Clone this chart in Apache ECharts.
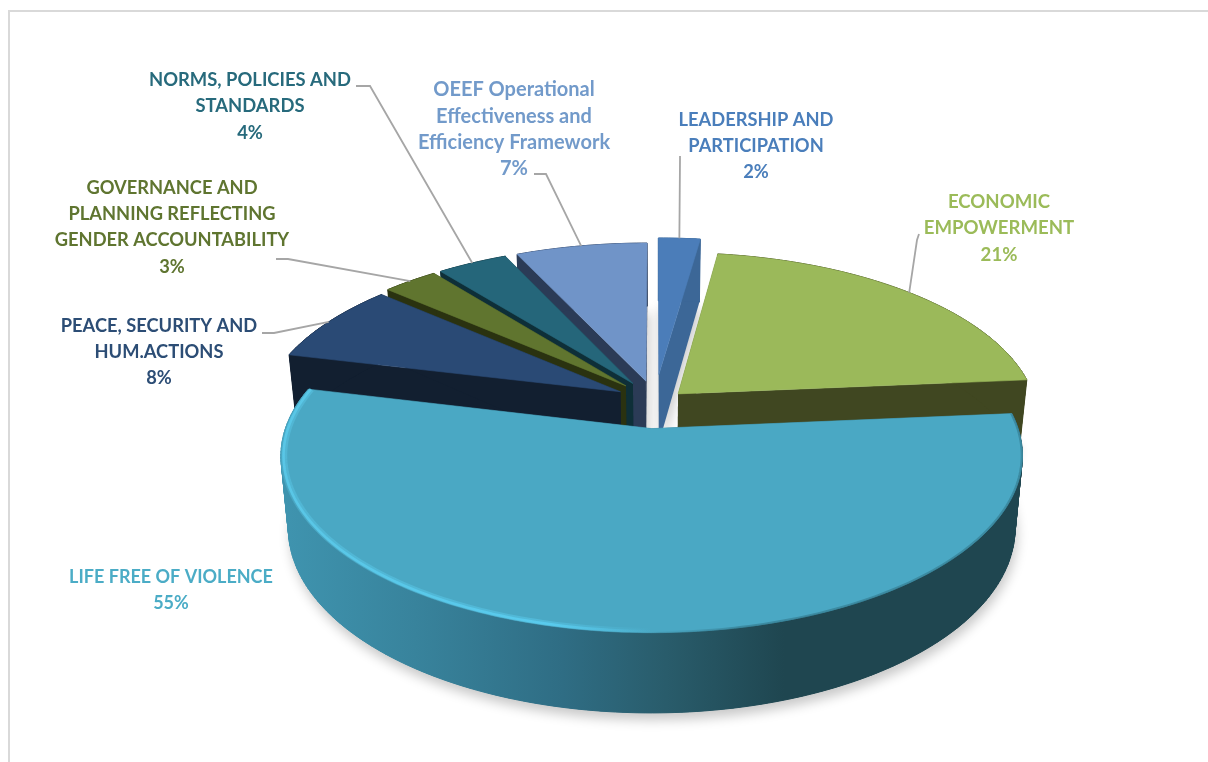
<!DOCTYPE html>
<html>
  <head>
    <title></title>
    <meta charset="UTF-8" />
    <script src="https://cdn.jsdelivr.net/npm/echarts@6/dist/echarts.min.js"></script>
    <style>
      html, body { margin: 0; padding: 0; background: #fff; }
    </style>
  </head>
  <body>
    <div id="main"></div>
    <script>
      const width = 1208;
      const height = 762;
      const main = document.getElementById('main');
      main.style.width = `${width}px`;
      main.style.height = `${height}px`;

      // data, clockwise from 12 o'clock (shares, labels show them rounded)
      const categories = [
        'LEADERSHIP AND\nPARTICIPATION',
        'ECONOMIC\nEMPOWERMENT',
        'LIFE FREE OF VIOLENCE',
        'PEACE, SECURITY AND\nHUM.ACTIONS',
        'GOVERNANCE AND\nPLANNING REFLECTING\nGENDER ACCOUNTABILITY',
        'NORMS, POLICIES AND\nSTANDARDS',
        'OEEF Operational\nEffectiveness and\nEfficiency Framework'
      ];
      const shares = [2.2, 21.4, 55.2, 7.7, 2.9, 3.7, 6.9];

      // styles
      const topColors = ['#4b7db9', '#9bb95a', '#4aa8c4', '#2a4a75', '#60752f', '#25667a', '#7094c8'];
      const sideColors = ['#3c6797', '#404721', '#1f4650', '#121f30', '#2a3210', '#0e2f38', '#2b3b56'];
      const labelColors = ['#4a7ebb', '#9bbb59', '#4bacc6', '#2c4d75', '#5f7530', '#276a7c', '#729aca'];
      const explode = [0.16, 0.075, 0.17, 0.11, 0.12, 0.12, 0.12];
      // direction a slice is pulled out, null = along its own middle
      const explodeDir = [null, 60, 183, null, null, null, null];
      const paintOrder = [6, 5, 4, 3, 0, 1, 2];

      // label layout: centre x, first line centre y, font size
      const labelX = [756, 999, 171, 159, 172, 250, 514];
      const labelY = [120, 202, 577, 326, 188, 80, 90];
      const labelSize = [18.3, 18.6, 18, 18.3, 18.3, 18.4, 20];
      const lineHeight = 26.3;
      // leader start points, elbow points (null = no leader)
      const leaderStart = [[680, 156], [919, 234], null, [262, 333], [276, 259], [356, 86], [534, 174]];
      const leaderElbow = [[680, 160], [917, 240], null, [274, 333], [288, 259], [370, 86], [546, 174]];

      // fake 3d projection
      const cx = 655, cy = 400, Rx = 357, Ry = 164, k = 0.15, H = 70, bottomScale = 0.98;
      const rad = d => d * Math.PI / 180;

      function project(u, v, down) {
        const w = 1 + k * v;
        const s = down ? bottomScale : 1;
        return [cx + Rx * u / w * s, cy - Ry * v / w * s + (down ? H / w : 0)];
      }

      const total = shares.reduce((a, b) => a + b, 0);
      let acc = 0;
      const slices = shares.map((d, i) => {
        const start = acc / total * 360;
        acc += d;
        const end = acc / total * 360;
        const mid = (start + end) / 2;
        return { start, end, mid, dir: explodeDir[i] === null ? mid : explodeDir[i], e: explode[i] };
      });

      function pt(s, a, r, down) {
        const u = s.e * Math.sin(rad(s.dir)) + r * Math.sin(rad(a));
        const v = s.e * Math.cos(rad(s.dir)) + r * Math.cos(rad(a));
        return project(u, v, down);
      }

      function arc(s, r, down) {
        const pts = [];
        const n = Math.max(2, Math.ceil(s.end - s.start));
        for (let j = 0; j <= n; j++) {
          pts.push(pt(s, s.start + (s.end - s.start) * j / n, r, down));
        }
        return pts;
      }

      function wallFill(i) {
        if (i !== 2) return sideColors[i];
        return new echarts.graphic.LinearGradient(283, 0, 1020, 0, [
          { offset: 0, color: '#3f94af' },
          { offset: 0.18, color: '#38839c' },
          { offset: 0.38, color: '#2f6d84' },
          { offset: 0.52, color: '#295c6b' },
          { offset: 0.68, color: '#1f4650' },
          { offset: 1, color: '#1f4650' }
        ], true);
      }

      function sliceElements(i) {
        const s = slices[i];
        const out = [];
        const topArc = arc(s, 1, false);
        const downArc = arc(s, 1, true);
        const apex = pt(s, 0, 0, false);
        const apexDown = pt(s, 0, 0, true);
        // cut faces
        [0, topArc.length - 1].forEach(j => {
          out.push({
            type: 'polygon',
            shape: { points: [apex, topArc[j], downArc[j], apexDown] },
            style: { fill: sideColors[i] }
          });
        });
        // outer wall: quads keep the silhouette closed at the sides, the big polygon hides their seams
        const fill = wallFill(i);
        for (let j = 0; j < topArc.length - 1; j++) {
          out.push({
            type: 'polygon',
            shape: { points: [topArc[j], topArc[j + 1], downArc[j + 1], downArc[j]] },
            style: { fill: fill, stroke: fill, lineWidth: 1 }
          });
        }
        out.push({
          type: 'polygon',
          shape: { points: topArc.concat(downArc.slice().reverse()) },
          style: { fill: fill }
        });
        // top
        out.push({
          type: 'polygon',
          shape: { points: [apex].concat(topArc) },
          style: { fill: topColors[i], stroke: topColors[i], lineWidth: 0.6 }
        });
        if (i === 2) {
          // bevel on the rim
          const glow = new echarts.graphic.LinearGradient(283, 0, 1020, 0, [
            { offset: 0, color: 'rgba(90,200,232,0.9)' },
            { offset: 0.36, color: 'rgba(90,205,240,0.9)' },
            { offset: 0.5, color: 'rgba(90,205,240,0)' },
            { offset: 1, color: 'rgba(90,205,240,0)' }
          ], true);
          const soft = new echarts.graphic.LinearGradient(283, 0, 1020, 0, [
            { offset: 0, color: 'rgba(50,120,140,0)' },
            { offset: 0.5, color: 'rgba(50,120,140,0)' },
            { offset: 0.62, color: 'rgba(50,120,140,0.6)' },
            { offset: 1, color: 'rgba(50,120,140,0.6)' }
          ], true);
          out.push({
            type: 'polyline',
            shape: { points: arc(s, 0.998, false) },
            style: { stroke: soft, lineWidth: 2, fill: null }
          });
          out.push({
            type: 'polyline',
            shape: { points: arc(s, 0.99, false) },
            style: { stroke: glow, lineWidth: 5, fill: null, opacity: 0.5 }
          });
          out.push({
            type: 'polyline',
            shape: { points: arc(s, 0.993, false) },
            style: { stroke: glow, lineWidth: 2.5, fill: null }
          });
        }
        return out;
      }

      function shadowElement(i) {
        const s = slices[i];
        return {
          type: 'polygon',
          shape: { points: [pt(s, 0, 0, true)].concat(arc(s, 1, true)) },
          style: {
            fill: '#e0e0e0',
            shadowBlur: 12,
            shadowColor: 'rgba(0,0,0,0.22)',
            shadowOffsetX: 2,
            shadowOffsetY: 7
          }
        };
      }

      function labelElements(i) {
        const lines = categories[i].split('\n').concat(Math.round(shares[i]) + '%');
        const out = lines.map((line, j) => ({
          type: 'text',
          style: {
            text: line,
            x: labelX[i],
            y: labelY[i] + j * lineHeight,
            fill: labelColors[i],
            font: `bold ${labelSize[i]}px Lato`,
            align: 'center',
            verticalAlign: 'middle'
          }
        }));
        if (leaderStart[i]) {
          out.push({
            type: 'polyline',
            shape: { points: [leaderStart[i], leaderElbow[i], pt(slices[i], slices[i].mid, 1, false)] },
            style: { stroke: '#a6a6a6', lineWidth: 1.8, fill: null }
          });
        }
        return out;
      }

      const myChart = echarts.init(main);
      const option = {
        animation: false,
        backgroundColor: '#fff',
        graphic: [
          { type: 'polyline', shape: { points: [[9, 762], [9, 11], [1208, 11]] }, style: { stroke: '#d9d9d9', lineWidth: 2, fill: null } }
        ],
        series: [
          {
            type: 'custom',
            coordinateSystem: 'none',
            silent: true,
            data: paintOrder.map(i => [i, shares[i]]),
            renderItem: (params, api) => {
              const i = api.value(0);
              const children = [];
              // shadows of everything first
              if (params.dataIndex === 0) {
                shares.forEach((d, j) => children.push(shadowElement(j)));
              }
              return { type: 'group', children: children.concat(sliceElements(i), labelElements(i)) };
            }
          }
        ]
      };
      myChart.setOption(option);
    </script>
  </body>
</html>
